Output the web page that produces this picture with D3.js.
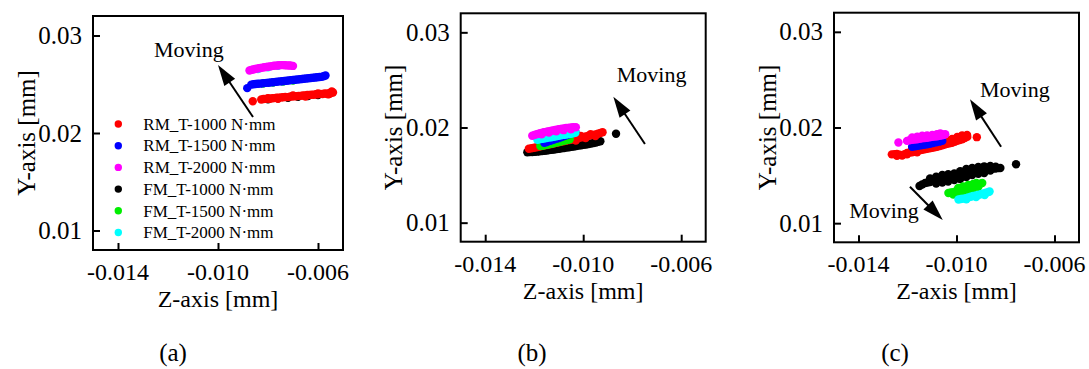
<!DOCTYPE html>
<html><head><meta charset="utf-8">
<script src="https://cdn.jsdelivr.net/npm/d3@7"></script>
<style>
body{margin:0;background:#fff;}
text{font-family:"Liberation Serif","Times New Roman",serif;fill:#000;}
</style>
</head><body>
<svg id="chart" width="1089" height="369"></svg>
<script>
// ---------- data ----------
const seriesNames = ["RM_T-1000 N·mm","RM_T-1500 N·mm","RM_T-2000 N·mm","FM_T-1000 N·mm","FM_T-1500 N·mm","FM_T-2000 N·mm"];
const seriesColors = ["#ff0000","#0000ff","#ff00ff","#000000","#00ee00","#00ffff"];
const drawOrder = [3,0,4,1,5,2];
const xTicks = [-0.014,-0.010,-0.006];
const xTickLabels = ["-0.014","-0.010","-0.006"];
const yTicks = [0.01,0.02,0.03];
const yTickLabels = ["0.01","0.02","0.03"];
const xDomain = [-0.015,-0.005];
const yDomain = [0.008,0.032];
const panelCaptions = ["(a)","(b)","(c)"];

// panel (a)
const a_rm1000 = [[-0.00861,0.02326],[-0.00827,0.02344],[-0.00818,0.02349],[-0.00810,0.02350],[-0.00801,0.02353],[-0.00792,0.02352],[-0.00783,0.02357],[-0.00775,0.02358],[-0.00766,0.02361],[-0.00757,0.02361],[-0.00748,0.02365],[-0.00740,0.02366],[-0.00731,0.02369],[-0.00722,0.02368],[-0.00713,0.02373],[-0.00705,0.02374],[-0.00696,0.02377],[-0.00687,0.02377],[-0.00678,0.02381],[-0.00670,0.02381],[-0.00661,0.02385],[-0.00652,0.02384],[-0.00643,0.02389],[-0.00635,0.02389],[-0.00626,0.02393],[-0.00617,0.02392],[-0.00608,0.02397],[-0.00600,0.02397],[-0.00591,0.02401],[-0.00582,0.02400],[-0.00573,0.02405],[-0.00565,0.02404],[-0.00556,0.02409],[-0.00548,0.02410],[-0.00540,0.02416],[-0.00545,0.02425],[-0.00555,0.02400],[-0.00800,0.02358],[-0.00760,0.02352],[-0.00700,0.02384],[-0.00650,0.02374],[-0.00600,0.02406],[-0.00560,0.02396]];
const a_rm1500 = [[-0.00883,0.02460],[-0.00867,0.02496],[-0.00858,0.02500],[-0.00850,0.02502],[-0.00841,0.02505],[-0.00832,0.02506],[-0.00823,0.02509],[-0.00815,0.02512],[-0.00806,0.02514],[-0.00797,0.02516],[-0.00788,0.02519],[-0.00779,0.02521],[-0.00770,0.02524],[-0.00762,0.02527],[-0.00753,0.02529],[-0.00744,0.02531],[-0.00735,0.02534],[-0.00726,0.02536],[-0.00717,0.02539],[-0.00709,0.02542],[-0.00700,0.02544],[-0.00691,0.02546],[-0.00682,0.02549],[-0.00673,0.02551],[-0.00664,0.02554],[-0.00656,0.02557],[-0.00647,0.02559],[-0.00638,0.02561],[-0.00629,0.02564],[-0.00620,0.02566],[-0.00611,0.02569],[-0.00603,0.02572],[-0.00594,0.02574],[-0.00586,0.02576],[-0.00578,0.02582],[-0.00570,0.02590]];
const a_rm2000 = [[-0.00874,0.02641],[-0.00867,0.02647],[-0.00860,0.02652],[-0.00852,0.02656],[-0.00845,0.02660],[-0.00837,0.02664],[-0.00830,0.02667],[-0.00822,0.02671],[-0.00815,0.02674],[-0.00807,0.02677],[-0.00800,0.02680],[-0.00792,0.02683],[-0.00785,0.02686],[-0.00777,0.02689],[-0.00770,0.02691],[-0.00762,0.02693],[-0.00755,0.02695],[-0.00747,0.02696],[-0.00740,0.02696],[-0.00732,0.02695],[-0.00725,0.02694],[-0.00717,0.02693],[-0.00710,0.02692],[-0.00700,0.02688]];
const a_fm1000 = [[-0.00800,0.02345],[-0.00760,0.02355],[-0.00720,0.02362],[-0.00680,0.02372],[-0.00640,0.02380],[-0.00600,0.02390]];
const a_fm1500 = [[-0.00820,0.02508],[-0.00780,0.02518],[-0.00740,0.02528],[-0.00700,0.02538]];
const a_fm2000 = [[-0.00840,0.02655],[-0.00800,0.02675],[-0.00760,0.02690]];

// panel (b)
const b_rm1000 = [[-0.01222,0.01777],[-0.01211,0.01782],[-0.01200,0.01788],[-0.01190,0.01793],[-0.01180,0.01798],[-0.01170,0.01804],[-0.01160,0.01810],[-0.01150,0.01816],[-0.01140,0.01822],[-0.01130,0.01827],[-0.01120,0.01832],[-0.01110,0.01838],[-0.01100,0.01845],[-0.01090,0.01850],[-0.01080,0.01855],[-0.01070,0.01861],[-0.01060,0.01867],[-0.01050,0.01872],[-0.01040,0.01878],[-0.01030,0.01884],[-0.01020,0.01890],[-0.01010,0.01895],[-0.01000,0.01900],[-0.00990,0.01906],[-0.00980,0.01912],[-0.00970,0.01917],[-0.00960,0.01922],[-0.00950,0.01928],[-0.00940,0.01935],[-0.00930,0.01942],[-0.00921,0.01950],[-0.01050,0.01885],[-0.01010,0.01910],[-0.00970,0.01930],[-0.01030,0.01862],[-0.00990,0.01890],[-0.00950,0.01910]];
const b_rm1500 = [[-0.01159,0.01840],[-0.01152,0.01846],[-0.01145,0.01852],[-0.01137,0.01859],[-0.01130,0.01866],[-0.01122,0.01872],[-0.01115,0.01878],[-0.01107,0.01884],[-0.01100,0.01890],[-0.01092,0.01897],[-0.01085,0.01904],[-0.01077,0.01911],[-0.01070,0.01918],[-0.01062,0.01925],[-0.01055,0.01932],[-0.01047,0.01939],[-0.01040,0.01946],[-0.01032,0.01955]];
const b_rm2000 = [[-0.01208,0.01913],[-0.01199,0.01922],[-0.01190,0.01930],[-0.01182,0.01935],[-0.01175,0.01940],[-0.01167,0.01945],[-0.01160,0.01950],[-0.01152,0.01954],[-0.01145,0.01958],[-0.01137,0.01962],[-0.01130,0.01966],[-0.01122,0.01970],[-0.01115,0.01974],[-0.01107,0.01978],[-0.01100,0.01982],[-0.01092,0.01985],[-0.01085,0.01988],[-0.01077,0.01991],[-0.01070,0.01994],[-0.01062,0.01996],[-0.01055,0.01998],[-0.01047,0.02000],[-0.01040,0.02002],[-0.01030,0.02003],[-0.01170,0.01928],[-0.01140,0.01946],[-0.01110,0.01961],[-0.01080,0.01972],[-0.01050,0.01982]];
const b_fm1000 = [[-0.01228,0.01740],[-0.01218,0.01741],[-0.01208,0.01742],[-0.01198,0.01744],[-0.01188,0.01746],[-0.01178,0.01749],[-0.01168,0.01752],[-0.01158,0.01755],[-0.01148,0.01758],[-0.01138,0.01762],[-0.01128,0.01766],[-0.01118,0.01769],[-0.01108,0.01773],[-0.01098,0.01777],[-0.01088,0.01781],[-0.01078,0.01785],[-0.01068,0.01789],[-0.01058,0.01793],[-0.01048,0.01797],[-0.01038,0.01801],[-0.01028,0.01806],[-0.01018,0.01810],[-0.01008,0.01814],[-0.00998,0.01818],[-0.00988,0.01822],[-0.00978,0.01827],[-0.00968,0.01832],[-0.00958,0.01837],[-0.00948,0.01842],[-0.00939,0.01849],[-0.00930,0.01856],[-0.00866,0.01934]];
const b_fm1500 = [[-0.01175,0.01805],[-0.01167,0.01808],[-0.01160,0.01812],[-0.01152,0.01817],[-0.01145,0.01822],[-0.01137,0.01826],[-0.01130,0.01830],[-0.01122,0.01835],[-0.01115,0.01840],[-0.01107,0.01844],[-0.01100,0.01848],[-0.01092,0.01853],[-0.01085,0.01858],[-0.01077,0.01862],[-0.01070,0.01866],[-0.01062,0.01871],[-0.01055,0.01876]];
const b_fm2000 = [[-0.01187,0.01871],[-0.01178,0.01875],[-0.01170,0.01880],[-0.01160,0.01885],[-0.01150,0.01890],[-0.01140,0.01894],[-0.01130,0.01898],[-0.01120,0.01903],[-0.01110,0.01908],[-0.01100,0.01913],[-0.01090,0.01918],[-0.01080,0.01922],[-0.01070,0.01926],[-0.01060,0.01930],[-0.01050,0.01935],[-0.01041,0.01940],[-0.01032,0.01944]];

// panel (c)
const c_rm1000 = [[-0.01264,0.01719],[-0.01253,0.01722],[-0.01243,0.01724],[-0.01232,0.01716],[-0.01222,0.01708],[-0.01212,0.01722],[-0.01202,0.01735],[-0.01191,0.01738],[-0.01181,0.01740],[-0.01171,0.01748],[-0.01161,0.01756],[-0.01150,0.01761],[-0.01140,0.01766],[-0.01130,0.01772],[-0.01120,0.01777],[-0.01109,0.01782],[-0.01099,0.01787],[-0.01089,0.01793],[-0.01079,0.01798],[-0.01068,0.01805],[-0.01058,0.01813],[-0.01048,0.01821],[-0.01038,0.01829],[-0.01028,0.01834],[-0.01018,0.01840],[-0.01007,0.01850],[-0.00997,0.01860],[-0.00987,0.01868],[-0.00977,0.01876],[-0.00966,0.01889],[-0.00956,0.01902],[-0.00957,0.01923],[-0.00917,0.01899],[-0.01181,0.01782],[-0.01161,0.01795],[-0.01140,0.01808],[-0.01120,0.01818],[-0.01099,0.01829],[-0.01079,0.01842],[-0.01058,0.01855],[-0.01038,0.01868],[-0.01018,0.01881],[-0.00997,0.01900],[-0.00977,0.01918],[-0.01243,0.01705],[-0.01202,0.01720],[-0.01161,0.01740]];
const c_rm1500 = [[-0.01181,0.01798],[-0.01169,0.01803],[-0.01157,0.01808],[-0.01145,0.01813],[-0.01132,0.01819],[-0.01120,0.01824],[-0.01108,0.01829],[-0.01096,0.01837],[-0.01083,0.01845],[-0.01070,0.01852],[-0.01058,0.01860]];
const c_rm2000 = [[-0.01237,0.01843],[-0.01202,0.01860],[-0.01192,0.01866],[-0.01181,0.01871],[-0.01171,0.01874],[-0.01161,0.01876],[-0.01150,0.01882],[-0.01140,0.01887],[-0.01130,0.01890],[-0.01120,0.01892],[-0.01109,0.01897],[-0.01099,0.01902],[-0.01089,0.01905],[-0.01079,0.01908],[-0.01068,0.01913],[-0.01058,0.01918],[-0.01052,0.01924],[-0.01046,0.01929],[-0.01181,0.01897],[-0.01160,0.01905],[-0.01140,0.01913],[-0.01120,0.01918],[-0.01099,0.01923],[-0.01080,0.01930],[-0.01066,0.01939]];
const c_fm1000 = [[-0.01151,0.01388],[-0.01140,0.01404],[-0.01128,0.01420],[-0.01118,0.01425],[-0.01108,0.01430],[-0.01096,0.01440],[-0.01083,0.01451],[-0.01070,0.01459],[-0.01058,0.01467],[-0.01046,0.01470],[-0.01034,0.01472],[-0.01022,0.01478],[-0.01009,0.01483],[-0.00997,0.01491],[-0.00985,0.01499],[-0.00972,0.01514],[-0.00960,0.01530],[-0.00948,0.01536],[-0.00936,0.01541],[-0.00924,0.01546],[-0.00911,0.01551],[-0.00899,0.01557],[-0.00887,0.01562],[-0.00875,0.01565],[-0.00862,0.01567],[-0.00852,0.01570],[-0.00842,0.01572],[-0.00832,0.01575],[-0.00821,0.01577],[-0.00757,0.01616],[-0.01108,0.01467],[-0.01083,0.01486],[-0.01058,0.01504],[-0.01034,0.01512],[-0.01009,0.01520],[-0.00985,0.01544],[-0.00960,0.01567],[-0.00936,0.01578],[-0.00911,0.01588],[-0.00887,0.01594],[-0.00862,0.01598],[-0.00840,0.01590],[-0.01083,0.01415],[-0.01058,0.01425],[-0.01034,0.01436],[-0.01009,0.01450],[-0.00985,0.01462],[-0.00960,0.01483],[-0.00936,0.01504],[-0.00911,0.01515],[-0.00887,0.01525],[-0.00862,0.01550]];
const c_fm1500 = [[-0.01033,0.01315],[-0.01023,0.01320],[-0.01013,0.01325],[-0.01003,0.01333],[-0.00993,0.01341],[-0.00983,0.01349],[-0.00973,0.01357],[-0.00962,0.01365],[-0.00952,0.01373],[-0.00942,0.01380],[-0.00932,0.01388],[-0.00921,0.01396],[-0.00911,0.01404],[-0.00903,0.01412],[-0.00895,0.01420],[-0.00993,0.01367],[-0.00973,0.01383],[-0.00952,0.01399],[-0.00932,0.01410],[-0.00919,0.01420],[-0.01013,0.01299],[-0.00993,0.01315],[-0.00973,0.01331],[-0.00952,0.01347],[-0.00932,0.01362],[-0.00911,0.01380]];
const c_fm2000 = [[-0.00992,0.01247],[-0.00982,0.01252],[-0.00973,0.01257],[-0.00962,0.01262],[-0.00952,0.01268],[-0.00942,0.01276],[-0.00932,0.01284],[-0.00921,0.01289],[-0.00911,0.01294],[-0.00901,0.01302],[-0.00891,0.01310],[-0.00880,0.01318],[-0.00870,0.01325],[-0.00865,0.01331],[-0.00960,0.01250],[-0.00920,0.01272],[-0.00885,0.01295]];

// annotations: [tailZ, tailY, tipZ, tipY] and text anchors [z, y]
const a_arrows = [[-0.00860,0.02164,-0.01000,0.02697]];
const a_labels = [[-0.01256,0.02783]];
const b_arrows = [[-0.00748,0.01827,-0.00877,0.02324]];
const b_labels = [[-0.00863,0.02481]];
const c_arrows = [[-0.00818,0.01799,-0.00945,0.02295],[-0.01190,0.01381,-0.01056,0.01033]];
const c_labels = [[-0.00904,0.02322],[-0.01438,0.01051]];
const annotationText = "Moving";

// ---------- layout ----------
const panels = [
  {series:[a_rm1000,a_rm1500,a_rm2000,a_fm1000,a_fm1500,a_fm2000], arrows:a_arrows, labels:a_labels, left:93, top:16, width:250, height:234, legend:true, capX:173},
  {series:[b_rm1000,b_rm1500,b_rm2000,b_fm1000,b_fm1500,b_fm2000], arrows:b_arrows, labels:b_labels, left:460.7, top:13.3, width:245, height:228.4, legend:false, capX:532},
  {series:[c_rm1000,c_rm1500,c_rm2000,c_fm1000,c_fm1500,c_fm2000], arrows:c_arrows, labels:c_labels, left:834, top:12.7, width:245, height:229.6, legend:false, capX:895}
];

const svg = d3.select("#chart");
const R = 4.2;

panels.forEach((p, pi) => {
  const g = svg.append("g").attr("transform", `translate(${p.left},${p.top})`);
  const x = d3.scaleLinear().domain(xDomain).range([0, p.width]);
  const y = d3.scaleLinear().domain(yDomain).range([p.height, 0]);

  // points
  drawOrder.forEach(si => {
    g.append("g").selectAll("circle").data(p.series[si]).join("circle")
      .attr("cx", d => x(d[0])).attr("cy", d => y(d[1])).attr("r", R)
      .attr("fill", seriesColors[si]);
  });

  // axes (ticks inward)
  const gx = g.append("g").attr("transform", `translate(0,${p.height})`)
    .call(d3.axisTop(x).tickValues(xTicks).tickSize(7).tickFormat(() => ""));
  const gy = g.append("g")
    .call(d3.axisRight(y).tickValues(yTicks).tickSize(7).tickFormat(() => ""));
  [gx, gy].forEach(ax => {
    ax.select(".domain").remove();
    ax.selectAll(".tick line").attr("stroke", "#000").attr("stroke-width", 2);
  });

  // tick labels
  g.append("g").selectAll("text").data(xTicks).join("text")
    .attr("x", d => x(d)).attr("y", p.height + 30)
    .attr("text-anchor", "middle").attr("font-size", 24)
    .text((d,i) => xTickLabels[i]);
  g.append("g").selectAll("text").data(yTicks).join("text")
    .attr("x", -11).attr("y", d => y(d)).attr("dy", "0.34em")
    .attr("text-anchor", "end").attr("font-size", 25)
    .text((d,i) => yTickLabels[i]);

  // frame
  g.append("rect").attr("x", 0).attr("y", 0).attr("width", p.width).attr("height", p.height)
    .attr("fill", "none").attr("stroke", "#000").attr("stroke-width", 2);

  // axis titles
  g.append("text").attr("x", p.width/2).attr("y", p.height + 57)
    .attr("text-anchor", "middle").attr("font-size", 24).text("Z-axis [mm]");
  g.append("text").attr("transform", `translate(-58.5,${p.height/2}) rotate(-90)`)
    .attr("text-anchor", "middle").attr("font-size", 25).text("Y-axis [mm]");

  // arrows
  p.arrows.forEach(a => {
    const x0 = x(a[0]), y0 = y(a[1]), x1 = x(a[2]), y1 = y(a[3]);
    const dx = x1 - x0, dy = y1 - y0, L = Math.hypot(dx, dy);
    const ux = dx / L, uy = dy / L, hl = 21, hw = 6.5;
    const bx = x1 - ux * hl, by = y1 - uy * hl;
    g.append("line").attr("x1", x0).attr("y1", y0).attr("x2", bx + ux*2).attr("y2", by + uy*2)
      .attr("stroke", "#000").attr("stroke-width", 2);
    g.append("path").attr("d", `M${x1},${y1}L${bx - uy*hw},${by + ux*hw}L${bx + uy*hw},${by - ux*hw}Z`)
      .attr("fill", "#000");
  });
  p.labels.forEach(l => {
    g.append("text").attr("x", x(l[0])).attr("y", y(l[1])).attr("font-size", 22).text(annotationText);
  });

  // legend
  if (p.legend) {
    const lg = g.append("g").attr("transform", "translate(25.3,108)");
    seriesNames.forEach((n, i) => {
      lg.append("circle").attr("cx", 0).attr("cy", i * 21.7).attr("r", 3.7).attr("fill", seriesColors[i]);
      lg.append("text").attr("x", 25).attr("y", i * 21.7).attr("dy", "0.34em")
        .attr("font-size", 17).text(n);
    });
  }

  // caption
  svg.append("text").attr("x", p.capX).attr("y", 361).attr("text-anchor", "middle")
    .attr("font-size", 25).text(panelCaptions[pi]);
});
</script>
</body></html>
